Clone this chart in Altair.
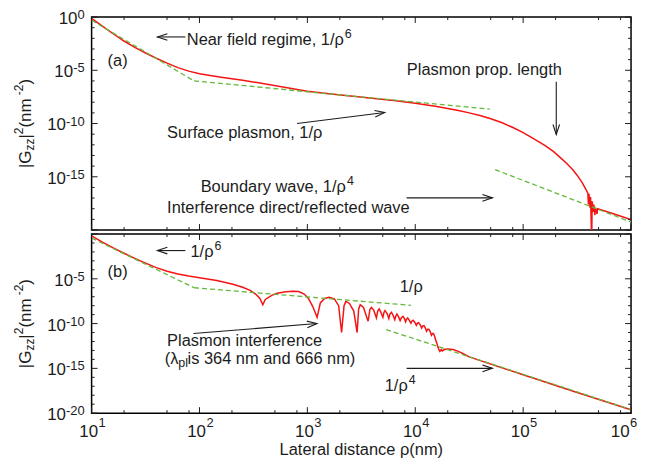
import altair as alt
import pandas as pd

FONT = "Liberation Sans"
INK = "#1c1c1c"
RED = "#f41414"
GREEN = "#63b83a"
W, HA, HB = 542, 214, 180
NBSP = "\u00a0"

# ---------------- data: log10(rho / nm) and log10(|Gzz|^2 / nm^-2) ----------------
# panel (a) red curve
a_red_lr = [1.00, 1.10, 1.20, 1.30, 1.40, 1.50, 1.60, 1.70, 1.80, 1.90, 2.00, 2.10, 2.20,
            2.40, 2.60, 2.80, 3.00, 3.20, 3.40, 3.60, 3.80, 4.00, 4.20, 4.40,
            4.50, 4.60, 4.70, 4.80, 4.90, 5.00, 5.10, 5.20,
            5.28, 5.35, 5.40, 5.46, 5.50, 5.55, 5.58, 5.60,
            5.605, 5.61, 5.62, 5.625, 5.635, 5.64, 5.65, 5.655, 5.665, 5.67, 5.685, 5.69,
            5.72, 5.80, 5.90, 6.00]
a_red_lg = [-0.12, -0.85, -1.57, -2.25, -2.85, -3.38, -3.87, -4.33, -4.75, -5.08, -5.32, -5.50, -5.65,
            -5.93, -6.27, -6.62, -6.97, -7.20, -7.41, -7.62, -7.84, -8.10, -8.40, -8.78,
            -9.00, -9.25, -9.55, -9.90, -10.35, -10.85, -11.45, -12.05,
            -12.62, -13.25, -13.70, -14.35, -14.85, -15.60, -16.15, -16.55,
            -17.60, -16.60, -17.90, -16.90, -21.0, -17.30, -18.30, -17.60, -18.60, -17.90, -18.50, -18.00,
            -18.10, -18.35, -18.68, -19.02]
# panel (a) green dashed asymptotes (segments: 1/rho^6, 1/rho, 1/rho^4)
a_green_lr = [[1.00, 1.95], [1.95, 4.69], [4.74, 6.00]]
a_green_lg = [[-0.30, -6.00], [-6.00, -8.65], [-14.33, -19.25]]

# panel (b) red curve
b_red_lr = [1.00, 1.10, 1.20, 1.30, 1.40, 1.50, 1.60, 1.70, 1.80, 1.90, 2.00, 2.16, 2.31, 2.40, 2.47,
            2.52, 2.56, 2.587, 2.61, 2.67, 2.72, 2.80, 2.87, 2.92, 2.97, 3.01, 3.05, 3.09,
            3.12, 3.16, 3.20, 3.25, 3.29, 3.317, 3.34, 3.357, 3.39, 3.43, 3.461,
            3.475, 3.49, 3.52, 3.563, 3.58, 3.594, 3.615, 3.64, 3.652, 3.665, 3.68, 3.70,
            3.71, 3.72, 3.74, 3.755, 3.765, 3.78, 3.795, 3.81, 3.82, 3.83, 3.845, 3.86,
            3.872, 3.886, 3.90, 3.91, 3.92, 3.93, 3.945, 3.96, 3.97, 3.98, 3.995, 4.01,
            4.02, 4.03, 4.045, 4.06, 4.07, 4.08, 4.092, 4.105, 4.115, 4.125, 4.137, 4.15,
            4.16, 4.17, 4.18, 4.19, 4.20, 4.21, 4.22, 4.228, 4.24, 4.25, 4.27, 4.30,
            4.35, 4.40, 4.45, 4.50, 5.00, 5.50, 6.00]
b_red_lg = [-0.22, -0.90, -1.55, -2.15, -2.72, -3.25, -3.75, -4.15, -4.47, -4.70, -4.88, -5.20, -5.62, -5.95, -6.30,
            -6.70, -7.20, -7.90, -7.30, -6.85, -6.62, -6.45, -6.40, -6.42, -6.70, -7.20, -8.10, -9.30,
            -7.70, -7.20, -7.07, -7.25, -8.00, -11.0, -8.00, -7.52, -7.75, -8.60, -11.0,
            -8.40, -7.90, -8.20, -9.74, -8.40, -8.19, -8.50, -9.37, -8.60, -8.37, -8.70, -9.30,
            -8.75, -8.56, -8.90, -9.44, -8.95, -8.74, -9.10, -9.56, -9.15, -8.93, -9.25, -9.67,
            -9.35, -9.19, -9.45, -9.81, -9.50, -9.37, -9.65, -9.95, -9.70, -9.62, -9.85, -10.20,
            -9.95, -9.90, -10.12, -10.50, -10.25, -10.22, -10.45, -10.85, -10.62, -10.62, -10.85, -11.30,
            -11.10, -11.15, -11.45, -11.85, -12.20, -12.60, -12.95, -13.10, -12.90, -13.05, -12.90, -12.85,
            -12.90, -13.10, -13.40, -13.72, -15.72, -17.70, -19.62]
b_green_lr = [[1.00, 1.95], [1.95, 3.96], [3.73, 6.00]]
b_green_lg = [[-0.45, -6.00], [-6.00, -7.96], [-10.67, -19.60]]

assert len(a_red_lr) == len(a_red_lg) and len(b_red_lr) == len(b_red_lg)

# axes
x_tick_exps = [1, 2, 3, 4, 5, 6]
x_minor_mult = [2, 5, 8]
y_decades = list(range(0, -21, -1))
a_ytick_exps = [0, -5, -10, -15]
b_ytick_exps = [-5, -10, -15, -20]

# annotations (anchors in log10 units)
a_left_txt = ["(a)", "Surface plasmon, 1/\u03c1", "Interference direct/reflected wave"]
a_left_lr = [1.148, 1.70, 1.70]
a_left_lg = [-4.11, -10.93, -17.94]
a_sup_txt = ["Near field regime, 1/\u03c1", "Boundary wave, 1/\u03c1"]
a_sup_exp = ["6", "4"]
a_sup_lr = [3.338, 3.357]
a_sup_lg = [-2.15, -15.98]
a_ctr_txt = ["Plasmon prop. length"]
a_ctr_lr = [4.64]
a_ctr_lg = [-4.95]
a_arr_lr0 = [1.869, 5.307, 2.904, 3.920]
a_arr_lg0 = [-1.87, -6.07, -10.00, -16.98]
a_arr_lr1 = [1.610, 5.307, 3.717, 4.715]
a_arr_lg1 = [-1.87, -11.03, -8.97, -16.98]
a_arr_ang = [180, 90, 352.9, 0]

b_left_txt = ["(b)", "1/\u03c1", "Plasmon interference", NBSP + "is 364 nm and 666 nm)"]
b_left_lr = [1.148, 3.856, 1.70, 1.889]
b_left_lg = [-4.22, -5.94, -12.00, -14.00]
b_sup_txt = ["1/\u03c1", "1/\u03c1"]
b_sup_exp = ["6", "4"]
b_sup_lr = [2.130, 3.930]
b_sup_lg = [-1.96, -16.95]
b_sub_txt = ["(\u03bb"]
b_sub_idx = ["pl"]
b_sub_lr = [1.804]
b_sub_lg = [-14.00]
b_arr_lr0 = [1.869, 1.943, 3.920]
b_arr_lg0 = [-1.85, -11.11, -15.00]
b_arr_lr1 = [1.610, 3.089, 4.715]
b_arr_lg1 = [-1.85, -10.00, -15.00]
b_arr_ang = [180, 355.4, 0]

X_TITLE = "Lateral distance \u03c1(nm)"

# ---------------- helpers ----------------
ADV = {"|": 260, "G": 778, "z": 500, "2": 556, " ": 278, NBSP: 278, "(": 333, "n": 556,
       "m": 833, "-": 333, ")": 333}


def tw(s, fs):
    return sum(ADV.get(c, 556) for c in s) * fs / 1000.0


def pw(v):
    return [10.0 ** t for t in v]


XS = alt.Scale(type="log", domain=[10, 1e6], nice=False)
YS = alt.Scale(type="log", domain=[1e-20, 1], nice=False)


def X(f="x"):
    return alt.X(f"{f}:Q", scale=XS, axis=None)


def Y(f="y"):
    return alt.Y(f"{f}:Q", scale=YS, axis=None)


ARROW = "M-1,-0.33L0,0L-1,0.33"


def panel(H, red_lr, red_lg, g_lr, g_lg, ytick_exps, left, sups, ctr, subs, arrows, xlabels):
    layers = []
    red = pd.DataFrame({"x": pw(red_lr), "y": pw(red_lg)})
    layers.append(alt.Chart(red).mark_line(color=RED, strokeWidth=1.5, clip=True)
                  .encode(x=X(), y=Y(), order="i:Q")
                  .transform_window(i="row_number()"))
    rows = []
    for k, (lrs, lgs) in enumerate(zip(g_lr, g_lg)):
        for a, b in zip(lrs, lgs):
            rows.append({"x": 10 ** a, "y": 10 ** b, "s": k})
    layers.append(alt.Chart(pd.DataFrame(rows)).mark_line(color=GREEN, strokeWidth=1.3,
                                                          strokeDash=[5, 3], clip=True)
                  .encode(x=X(), y=Y(), detail="s:N"))
    # arrows
    lr0, lg0, lr1, lg1, ang = arrows
    adf = pd.DataFrame({"x": pw(lr0), "y": pw(lg0), "x2": pw(lr1), "y2": pw(lg1), "a": ang})
    layers.append(alt.Chart(adf).mark_rule(color=INK, strokeWidth=1.1)
                  .encode(x=X(), y=Y(), x2="x2:Q", y2="y2:Q"))
    layers.append(alt.Chart(adf).mark_point(shape=ARROW, filled=False, size=400, color=INK,
                                            strokeWidth=1.1, opacity=1)
                  .encode(x=X("x2"), y=Y("y2"), angle=alt.Angle("a:Q", scale=None)))
    # texts
    t, lr, lg = left
    layers.append(alt.Chart(pd.DataFrame({"t": t, "x": pw(lr), "y": pw(lg)}))
                  .mark_text(align="left", baseline="middle", fontSize=16.5, color=INK)
                  .encode(x=X(), y=Y(), text="t:N"))
    if ctr:
        t, lr, lg = ctr
        layers.append(alt.Chart(pd.DataFrame({"t": t, "x": pw(lr), "y": pw(lg)}))
                      .mark_text(align="center", baseline="middle", fontSize=16.5, color=INK)
                      .encode(x=X(), y=Y(), text="t:N"))
    t, e, lr, lg = sups
    sdf = pd.DataFrame({"t": t, "e": e, "x": pw(lr), "y": pw(lg)})
    layers.append(alt.Chart(sdf).mark_text(align="right", baseline="middle", fontSize=16.5, color=INK)
                  .encode(x=X(), y=Y(), text="t:N"))
    layers.append(alt.Chart(sdf).mark_text(align="left", baseline="middle", fontSize=12.5, color=INK,
                                           dx=1, dy=-6)
                  .encode(x=X(), y=Y(), text="e:N"))
    if subs:
        t, e, lr, lg = subs
        bdf = pd.DataFrame({"t": t, "e": e, "x": pw(lr), "y": pw(lg)})
        layers.append(alt.Chart(bdf).mark_text(align="right", baseline="middle", fontSize=16.5,
                                               color=INK).encode(x=X(), y=Y(), text="t:N"))
        layers.append(alt.Chart(bdf).mark_text(align="left", baseline="middle", fontSize=12.5,
                                               color=INK, dy=4).encode(x=X(), y=Y(), text="e:N"))
    # tick marks (inward)
    xmaj = pd.DataFrame({"x": [10.0 ** e for e in x_tick_exps]})
    xmin = pd.DataFrame({"x": [m * 10.0 ** e for e in x_tick_exps[:-1] for m in x_minor_mult]})
    ymaj = pd.DataFrame({"y": [10.0 ** e for e in y_decades if e % 5 == 0]})
    ymin = pd.DataFrame({"y": [10.0 ** e for e in y_decades if e % 5 != 0]})
    for df, ln in ((xmaj, 6), (xmin, 3)):
        layers.append(alt.Chart(df).mark_rule(color=INK, strokeWidth=1)
                      .encode(x=X(), y=alt.value(0), y2=alt.value(ln)))
        layers.append(alt.Chart(df).mark_rule(color=INK, strokeWidth=1)
                      .encode(x=X(), y=alt.value(H), y2=alt.value(H - ln)))
    for df, ln in ((ymaj, 6), (ymin, 3)):
        layers.append(alt.Chart(df).mark_rule(color=INK, strokeWidth=1)
                      .encode(y=Y(), x=alt.value(0), x2=alt.value(ln)))
        layers.append(alt.Chart(df).mark_rule(color=INK, strokeWidth=1)
                      .encode(y=Y(), x=alt.value(W), x2=alt.value(W - ln)))
    # y tick labels: "10" + exponent
    sup_fs, base_fs = 13, 17
    groups = {}
    for e in ytick_exps:
        groups.setdefault(len(str(e)), []).append(e)
    layers.append(alt.Chart(pd.DataFrame({"y": [10.0 ** e for e in ytick_exps],
                                          "e": [str(e) for e in ytick_exps]}))
                  .mark_text(align="right", baseline="middle", fontSize=sup_fs, color=INK, dy=-2)
                  .encode(y=Y(), x=alt.value(-7), text="e:N"))
    for n, es in groups.items():
        w = tw(str(es[0]), sup_fs)
        layers.append(alt.Chart(pd.DataFrame({"y": [10.0 ** e for e in es], "t": ["10"] * len(es)}))
                      .mark_text(align="right", baseline="middle", fontSize=base_fs, color=INK, dy=2)
                      .encode(y=Y(), x=alt.value(-7 - w), text="t:N"))
    # y title: |G_zz|^2 (nm^-2), rotated; third item = shift across, fourth = kerning before
    pieces = [("|G", 17, 0, 0), ("zz", 12, 4, 0), ("|", 17, 0, 0), ("2", 12, -7, 0),
              (NBSP + "(nm", 17, 0, 0), ("-2", 12, -7, -1.5), (")", 17, 0, 0)]
    total = sum(tw(p, f) + k for p, f, _, k in pieces)
    off = -total / 2
    for p, f, d, k in pieces:
        off += k
        layers.append(alt.Chart(pd.DataFrame({"t": [p]}))
                      .mark_text(angle=270, align="left", baseline="middle", fontSize=f, color=INK,
                                 dx=off, dy=d)
                      .encode(x=alt.value(-66), y=alt.value(H / 2), text="t:N"))
        off += tw(p, f)
    if xlabels:
        # centred labels, the last one pulled in to the right edge
        for exps, jdx in ((x_tick_exps[:-1], 6.5), (x_tick_exps[-1:], -1.5)):
            xdf = pd.DataFrame({"x": [10.0 ** e for e in exps],
                                "t": ["10"] * len(exps), "e": [str(e) for e in exps]})
            layers.append(alt.Chart(xdf).mark_text(align="right", baseline="middle", fontSize=base_fs,
                                                   color=INK, dx=jdx, dy=19)
                          .encode(x=X(), y=alt.value(H), text="t:N"))
            layers.append(alt.Chart(xdf).mark_text(align="left", baseline="middle", fontSize=sup_fs,
                                                   color=INK, dx=jdx + 0.5, dy=10)
                          .encode(x=X(), y=alt.value(H), text="e:N"))
        layers.append(alt.Chart(pd.DataFrame({"t": [X_TITLE]}))
                      .mark_text(align="center", baseline="middle", fontSize=16.5, color=INK, dy=37)
                      .encode(x=alt.value(W / 2), y=alt.value(H), text="t:N"))
    return alt.layer(*layers).properties(width=W, height=H)


top = panel(HA, a_red_lr, a_red_lg, a_green_lr, a_green_lg, a_ytick_exps,
            (a_left_txt, a_left_lr, a_left_lg),
            (a_sup_txt, a_sup_exp, a_sup_lr, a_sup_lg),
            (a_ctr_txt, a_ctr_lr, a_ctr_lg), None,
            (a_arr_lr0, a_arr_lg0, a_arr_lr1, a_arr_lg1, a_arr_ang), False)
bottom = panel(HB, b_red_lr, b_red_lg, b_green_lr, b_green_lg, b_ytick_exps,
               (b_left_txt, b_left_lr, b_left_lg),
               (b_sup_txt, b_sup_exp, b_sup_lr, b_sup_lg),
               None, (b_sub_txt, b_sub_idx, b_sub_lr, b_sub_lg),
               (b_arr_lr0, b_arr_lg0, b_arr_lr1, b_arr_lg1, b_arr_ang), True)

chart = (alt.vconcat(top, bottom, spacing=0)
         .properties(padding={"left": 4, "top": -1, "right": 0, "bottom": 0})
         .configure(font=FONT)
         .configure_view(stroke="black", strokeWidth=1.5))

chart.save("out.html", embed_options={"renderer": "svg", "actions": False})
